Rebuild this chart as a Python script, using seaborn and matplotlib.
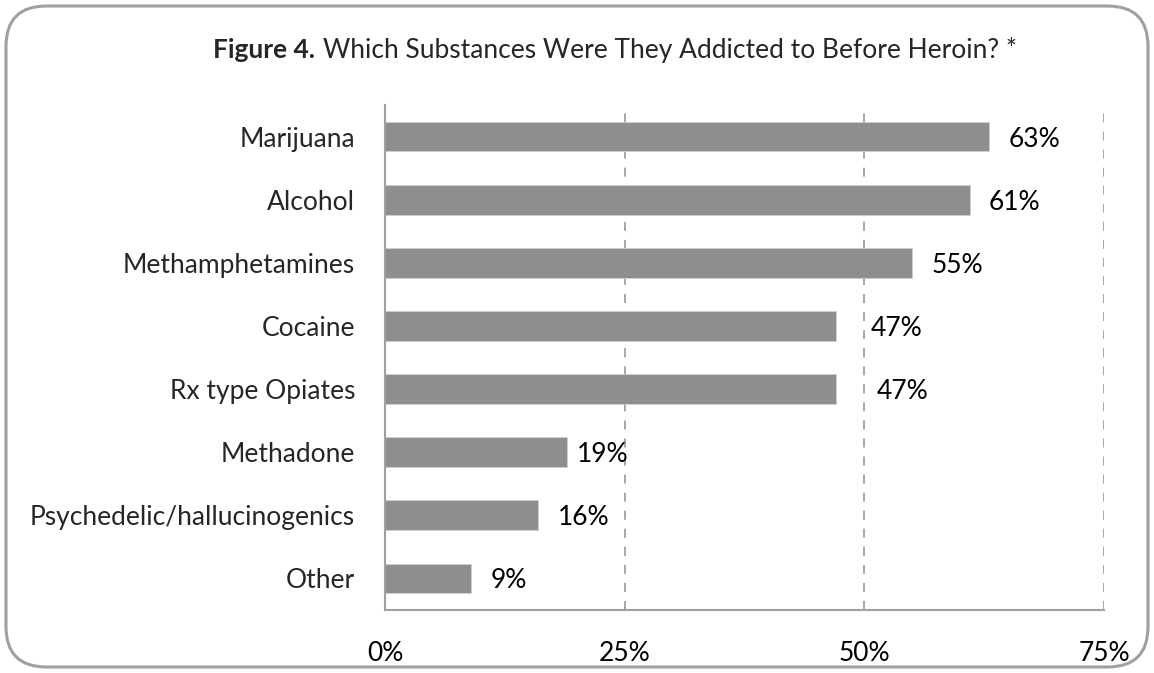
import matplotlib
matplotlib.use("Agg")
import matplotlib.pyplot as plt
import seaborn as sns
import pandas as pd
from matplotlib.patches import FancyBboxPatch

categories = ["Marijuana", "Alcohol", "Methamphetamines", "Cocaine",
              "Rx type Opiates", "Methadone", "Psychedelic/hallucinogenics", "Other"]
values = [63, 61, 55, 47, 47, 19, 16, 9]
label_texts = ["63%", "61%", "55%", "47%", "47%", "19%", "16%", "9%"]
label_nudge = [0, 0, 0, 1.7, 2.3, -1.0, 0, 0]  # extra label shift, in % units
x_ticks = [0, 25, 50, 75]
x_tick_labels = ["0%", "25%", "50%", "75%"]

sns.set_style("white")
plt.rcParams['font.family'] = ['Lato', 'DejaVu Sans']

W, H = 1154, 673
FS = 19
fig = plt.figure(figsize=(W / 100, H / 100), dpi=100)
ax = fig.add_axes([385 / W, 1 - 610 / H, (1104 - 385) / W, (610 - 105) / H])

df = pd.DataFrame({"category": categories, "value": values})
sns.barplot(data=df, x="value", y="category", orient="h", color="#8e8e8e",
            width=0.47, saturation=1, ax=ax, edgecolor="#d0d0d0", linewidth=0.6)

ax.set_xlim(0, 75)
ax.set_ylim(len(categories) - 0.5, -0.5)
ax.set_xticks(x_ticks)
ax.set_xticklabels(x_tick_labels, fontsize=FS, color="black")
ax.set_xlabel("")
ax.set_ylabel("")
ax.tick_params(axis="x", direction="out", length=8, width=1.2, color="#a0a0a0", pad=14)
ax.tick_params(axis="y", which="major", length=0, pad=21.5, labelsize=FS)
ax.set_yticks([i - 0.5 for i in range(len(categories) + 1)], minor=True)
ax.tick_params(axis="y", which="minor", direction="out", length=8, width=1.2, color="#a0a0a0")

for s in ["top", "right"]:
    ax.spines[s].set_visible(False)
for s in ["left", "bottom"]:
    ax.spines[s].set_color("#a0a0a0")
    ax.spines[s].set_linewidth(1.5)

for x in x_ticks[1:]:
    ax.axvline(x, color="#a0a0a0", linestyle=(0, (5, 5)), linewidth=1.3, zorder=0)

for i, (v, t, n) in enumerate(zip(values, label_texts, label_nudge)):
    ax.text(v + 2.0 + n, i, t, va="center_baseline", ha="left", fontsize=FS, color="black")

fig.text(315 / W, 1 - 58 / H, "Figure 4.", fontsize=FS, fontweight="bold",
         ha="right", va="baseline")
fig.text(323 / W, 1 - 58 / H, "Which Substances Were They Addicted to Before Heroin? *",
         fontsize=FS, ha="left", va="baseline")

border = FancyBboxPatch((6 / W, 6 / H), (W - 12) / W, (H - 12) / H,
                        boxstyle="round,pad=0,rounding_size=0.035",
                        transform=fig.transFigure, fill=False,
                        edgecolor="#a0a0a0", linewidth=2.2, mutation_aspect=W / H)
fig.patches.append(border)

fig.savefig("out.png", dpi=100)
